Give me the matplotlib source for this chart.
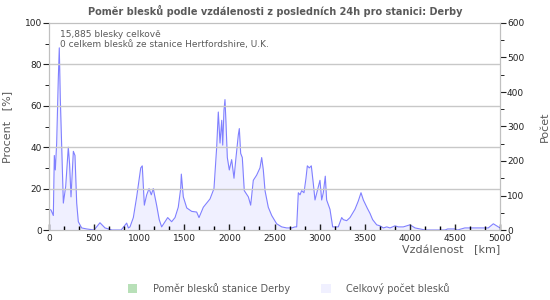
import matplotlib
matplotlib.use("Agg")
from matplotlib import pyplot as plt
from matplotlib.ticker import MultipleLocator
from matplotlib.patches import Patch

# vzdálenost [km] a počet blesků
vzdalenost = [0, 22, 48, 59, 70, 85, 103, 114, 125, 141, 159, 185, 214, 228, 244, 270, 288, 307, 325,
              362, 418, 500, 565, 621, 700, 800, 861, 880, 898, 935, 972, 1017, 1034, 1057, 1083, 1109,
              1134, 1156, 1193, 1222, 1249, 1316, 1360, 1397, 1433, 1460, 1467, 1489, 1527, 1582, 1637,
              1663, 1711, 1785, 1829, 1859, 1877, 1896, 1915, 1926, 1940, 1951, 1962, 1977, 1999, 2025,
              2051, 2073, 2099, 2110, 2125, 2143, 2165, 2210, 2236, 2265, 2302, 2339, 2358, 2376, 2395,
              2431, 2469, 2524, 2580, 2635, 2691, 2727, 2746, 2764, 2783, 2801, 2827, 2849, 2864, 2886,
              2908, 2930, 2949, 2975, 3004, 3023, 3041, 3063, 3078, 3115, 3145, 3207, 3245, 3263, 3300,
              3337, 3392, 3429, 3459, 3485, 3529, 3559, 3588, 3633, 3670, 3707, 3744, 3781, 3836, 3873,
              3928, 4002, 4058, 4113, 4170, 4390, 4420, 4500, 4530, 4610, 4700, 4800, 4870, 4926, 4963,
              5000]
pocet = [60, 58, 42, 216, 174, 252, 438, 528, 384, 240, 78, 126, 240, 192, 96, 228, 216, 78, 24,
         6, 3, 0, 21, 6, 0, 0, 20, 6, 9, 36, 96, 180, 186, 72, 102, 120,
         102, 120, 72, 30, 9, 36, 24, 36, 66, 120, 162, 96, 64, 54, 52,
         36, 66, 90, 120, 240, 342, 252, 318, 246, 348, 378, 312, 210, 174, 204,
         150, 210, 276, 294, 222, 210, 114, 96, 72, 144, 159, 180, 210, 174, 114,
         66, 42, 18, 9, 6, 6, 9, 9, 108, 102, 114, 108, 150, 186, 180,
         186, 135, 87, 114, 144, 87, 108, 156, 87, 60, 9, 9, 36, 30, 27,
         36, 60, 84, 108, 87, 63, 48, 30, 15, 12, 6, 9, 6, 12, 9,
         9, 15, 6, 3, 0, 0, 3, 3, 0, 6, 6, 6, 6, 18, 12,
         6]

x_ticks = [0, 500, 1000, 1500, 2000, 2500, 3000, 3500, 4000, 4500, 5000]
celkem = "15,885 blesky celkově"
stanice = "0 celkem blesků ze stanice Hertfordshire, U.K."

seda = "#5a5a5a"
plt.rcParams['font.family'] = ['DejaVu Sans']

fig = plt.figure(figsize=(5.5, 3), dpi=100)
ax = fig.add_axes([49/550, 70/300, 451/550, 207/300])
ax2 = ax.twinx()

ax2.fill_between(vzdalenost, pocet, 0, color="#f0f0ff", linewidth=0)
ax2.plot(vzdalenost, pocet, color="#8080ff", linewidth=0.8)

ax.set_xlim(0, 5000)
ax.set_ylim(0, 100)
ax2.set_ylim(0, 600)
ax.set_xticks(x_ticks)
ax.xaxis.set_minor_locator(MultipleLocator(500/3))
ax.yaxis.set_major_locator(MultipleLocator(20))
ax.yaxis.set_minor_locator(MultipleLocator(10))
ax2.yaxis.set_major_locator(MultipleLocator(100))
ax2.yaxis.set_minor_locator(MultipleLocator(50))

for y in [20, 40, 60, 80]:
    ax.axhline(y, color="#c8c8c8", linewidth=1, zorder=0)

ax.tick_params(axis="x", direction="in", length=4, width=1, labelsize=6.5, pad=3, colors="#222222")
ax.tick_params(axis="x", which="minor", direction="in", length=3, width=1)
ax.tick_params(axis="y", direction="out", length=4, labelsize=6.5, pad=1, colors="#222222")
ax.tick_params(axis="y", which="minor", direction="out", length=3)
ax2.tick_params(axis="y", direction="out", length=4, labelsize=6.5, pad=1, colors="#222222")
ax2.tick_params(axis="y", which="minor", direction="out", length=3)

for a in (ax, ax2):
    for s in a.spines.values():
        s.set_color("#c0c0c0")
ax.set_zorder(ax2.get_zorder() + 1)
ax.patch.set_visible(False)

ax.set_ylabel("Procent   [%]", color=seda, fontsize=8)
ax.yaxis.set_label_coords(-0.082, 0.5)
ax2.set_ylabel("Počet", color=seda, fontsize=8)
ax2.yaxis.set_label_coords(1.089, 0.5)
fig.text(500/550, 1 - 250/300, "Vzdálenost   [km]", color=seda, fontsize=8, ha="right", va="center")
fig.suptitle("Poměr blesků podle vzdálenosti z posledních 24h pro stanici: Derby",
             x=0.5, y=1 - 11/300, fontsize=7, fontweight="bold", color=seda, va="center")

ax.text(0.025, 0.965, celkem + "\n" + stanice, transform=ax.transAxes, fontsize=6.5,
        color=seda, va="top", ha="left", linespacing=1.1)

handles = [Patch(facecolor="#b8e0b8", edgecolor="none"), Patch(facecolor="#f0f0ff", edgecolor="none")]
fig.legend(handles, ["Poměr blesků stanice Derby", "Celkový počet blesků"], loc="center",
           bbox_to_anchor=(0.525, 1 - 288/300), ncol=2, frameon=False, fontsize=7,
           labelcolor=seda, handlelength=1.0, handleheight=1.0, columnspacing=3.2, handletextpad=1.6)

fig.savefig("out.png", dpi=100)
